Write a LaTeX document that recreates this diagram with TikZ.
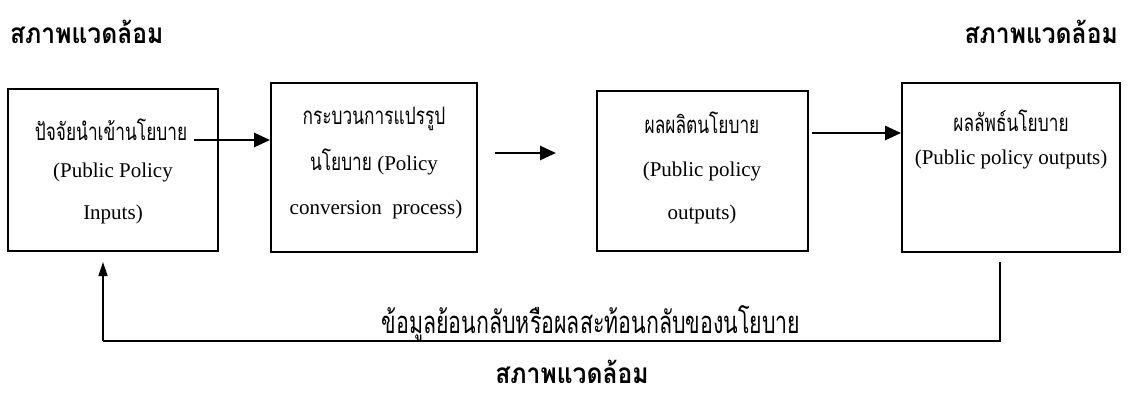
\documentclass[tikz,border=0pt]{standalone}
\usepackage{fontspec}
\setmainfont{Liberation Serif}
\newfontfamily\thai[Script=Thai,FakeStretch=0.72]{Loma}
\newfontfamily\thaifb[Script=Thai,FakeStretch=0.69]{Loma}
\newfontfamily\thait[Script=Thai,FakeStretch=0.88]{Loma}
\usetikzlibrary{arrows.meta}
\begin{document}
\begin{tikzpicture}[x=1pt,y=-1pt,
  box/.style={draw,line width=1.8pt,inner sep=0pt},
  flow/.style={line width=2.6pt,-{Triangle[length=16pt,width=14pt]}},
  fb/.style={line width=1.4pt},
  fbarrow/.style={line width=1.4pt,-{Triangle[length=14pt,width=9pt]}},
  en/.style={font=\fontsize{21}{25}\selectfont,inner sep=0pt,anchor=base},
  th/.style={font=\thai\fontsize{24}{28}\selectfont,inner sep=0pt,anchor=base},
  title/.style={font=\thait\bfseries\fontsize{28}{32}\selectfont,inner sep=0pt,anchor=base},
  fbtext/.style={font=\thaifb\fontsize{31}{36}\selectfont,inner sep=0pt,anchor=base}]
\path[use as bounding box] (0,0) rectangle (1130,394);
% titles
\node[title,anchor=base west] (tl) at (10,43) {สภาพแวดล้อม};
\node[title,anchor=base east] (tr) at (1118,43) {สภาพแวดล้อม};
\node[title] (tb) at (572,383) {สภาพแวดล้อม};
% boxes
\node[box,minimum width=210pt,minimum height=162pt] (b1) at (113,170) {};
\node[box,minimum width=206pt,minimum height=169pt] (b2) at (374,167.5) {};
\node[box,minimum width=211pt,minimum height=160pt] (b3) at (702.5,171) {};
\node[box,minimum width=218pt,minimum height=169pt] (b4) at (1011,167.5) {};
% box texts
\node[th] (t11) at (111,140) {ปัจจัยนำเข้านโยบาย};
\node[en] (t12) at (113,177) {(Public Policy};
\node[en] (t13) at (113,219) {Inputs)};
\node[th] (t21) at (374,124) {กระบวนการแปรรูป};
\node[en] (t22) at (374,170) {{\thai\fontsize{24}{28}\selectfont นโยบาย} (Policy};
\node[en] (t23) at (376,214) {conversion\ \ process)};
\node[th] (t31) at (702,133) {ผลผลิตนโยบาย};
\node[en] (t32) at (702,176) {(Public policy};
\node[en] (t33) at (702,219) {outputs)};
\node[th] (t41) at (1011,131) {ผลลัพธ์นโยบาย};
\node[en] (t42) at (1011,164) {(Public policy outputs)};
% flow arrows
\coordinate (a1s) at (194,140);
\coordinate (a2s) at (495,153);
\coordinate (a2e) at (556,153);
\coordinate (a3s) at (812,133);
\draw[flow] (a1s) -- (a1s -| b2.west);
\draw[flow] (a2s) -- (a2e);
\draw[flow] (a3s) -- (a3s -| b4.west);
% feedback
\coordinate (fr) at (1000,262);
\coordinate (fl) at (103,262);
\coordinate (fbr) at (1000,341);
\coordinate (fbl) at (103,341);
\draw[fb] (fr) -- (fbr) -- (fbl);
\draw[fbarrow] (fbl) -- (fl);
\node[fbtext] (fbt) at (591,333) {ข้อมูลย้อนกลับหรือผลสะท้อนกลับของนโยบาย};
\end{tikzpicture}
\end{document}
